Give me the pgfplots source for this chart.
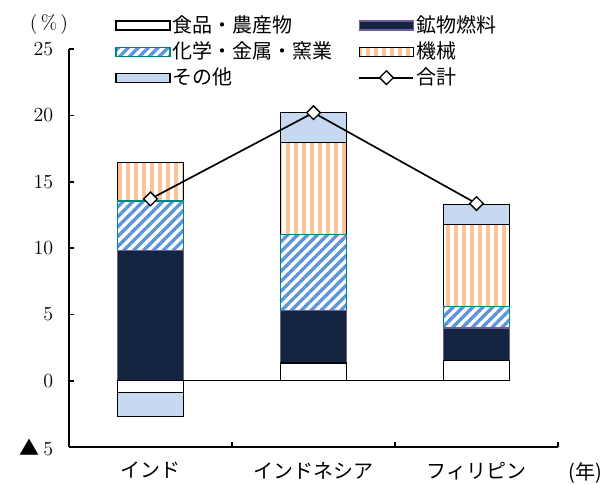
\documentclass[border=0pt]{standalone}
\usepackage{fontspec}
\usepackage{pgfplots}
\pgfplotsset{compat=1.18}
\usepackage{pgfplotstable}
\usetikzlibrary{patterns.meta}
\newfontfamily\cjk{Noto Sans CJK JP}
\definecolor{navy}{RGB}{19,37,64}
\definecolor{mpurple}{RGB}{112,92,150}
\definecolor{chemblue}{RGB}{92,148,218}
\definecolor{chemteal}{RGB}{0,133,130}
\definecolor{machor}{RGB}{250,196,150}
\definecolor{othblue}{RGB}{198,217,240}

\pgfplotstableread{
x food mineral chem mach other
0 -0.9 9.8 3.75 2.9 -1.8
1 1.33 3.95 5.72 6.96 2.24
2 1.5 2.47 1.63 6.2 1.46
}\shares

\pgfplotsset{
  sfood/.style={draw=black, fill=white, line width=0.75pt},
  smin/.style={draw=mpurple, fill=navy, line width=0.75pt},
  schem/.style={draw=chemteal, line width=0.75pt, pattern={Lines[angle=45,distance=4.2pt,line width=2pt]}, pattern color=chemblue},
  smach/.style={draw=black, line width=0.75pt, pattern={Lines[angle=90,distance=4.8pt,line width=2.4pt]}, pattern color=machor},
  soth/.style={draw=black, fill=othblue, line width=0.75pt},
  stot/.style={black, line width=1pt, mark=square*, mark size=2.9pt, mark options={fill=white, rotate=45, line width=0.8pt, solid}},
  legbar/.style={legend image code/.code={\draw[##1] (0pt,-2.7pt) rectangle (32.4pt,2.7pt);}},
  legline/.style={legend image code/.code={\draw[##1, mark=none] (0pt,0pt) -- (32.4pt,0pt); \draw[##1, only marks] plot coordinates {(16.2pt,0pt)};}},
}

\begin{document}
\begin{tikzpicture}
\path[use as bounding box] (-41.4pt,-21.6pt) rectangle (324pt,268.2pt);
\begin{axis}[name=ax, at={(0pt,0pt)}, anchor=south west,
  scale only axis, width=293.4pt, height=238.8pt,
  xmin=-0.5, xmax=2.5, ymin=-5, ymax=25,
  ybar stacked, bar width=0.405,
  axis lines*=left, axis line style={line width=1.6pt},
  tick align=inside,
  xtick={0,1,2},
  xticklabels={インド,インドネシア,フィリピン},
  xticklabel style={font=\cjk\fontsize{12}{14}\selectfont, yshift=-5.5pt},
  major x tick style={draw=none},
  minor xtick={-0.5,0.5,1.5,2.5},
  minor tick length=3.3pt, major tick length=3pt,
  tick style={black, line width=1pt},
  ytick={-5,0,5,10,15,20,25},
  yticklabels={{{\cjk ▲}\,5},0,5,10,15,20,25},
  yticklabel style={font=\fontsize{12}{14}\selectfont, xshift=-6pt},
  legend columns=2,
  legend cell align=left,
  legend style={draw=none, fill=none, inner sep=0pt, anchor=north west,
    at={(0.0941,1.089)}, font=\cjk\fontsize{12}{14}\selectfont,
    nodes={inner sep=1.2pt}, row sep=1.6pt,
    /tikz/every even column/.append style={column sep=14.4pt}},
]
\addplot[sfood, forget plot] table[x=x,y=food]{\shares};
\addplot[smin, forget plot] table[x=x,y=mineral]{\shares};
\addplot[schem, forget plot] table[x=x,y=chem]{\shares};
\addplot[smach, forget plot] table[x=x,y=mach]{\shares};
\addplot[soth, forget plot] table[x=x,y=other]{\shares};
\addlegendimage{legbar, sfood}\addlegendentry{食品・農産物}
\addlegendimage{legbar, smin}\addlegendentry{鉱物燃料}
\addlegendimage{legbar, schem}\addlegendentry{化学・金属・窯業}
\addlegendimage{legbar, smach}\addlegendentry{機械}
\addlegendimage{legbar, soth}\addlegendentry{その他}
\addlegendimage{legline, stot}\addlegendentry{合計}
\end{axis}
\begin{axis}[at={(ax.south west)}, anchor=south west,
  scale only axis, width=293.4pt, height=238.8pt,
  xmin=-0.5, xmax=2.5, ymin=-5, ymax=25, hide axis, clip=false]
\addplot[black, line width=0.8pt] coordinates {(0,0) (2,0)};
\addplot[stot] coordinates {(0,13.7) (1,20.2) (2,13.35)};
\end{axis}
\node[font=\fontsize{12}{14}\selectfont] at (-12pt,253.2pt) {(\,\%\,)};
\node[font=\cjk\fontsize{12}{14}\selectfont] at (309.6pt,-15.6pt) {(年)};
\end{tikzpicture}
\end{document}
